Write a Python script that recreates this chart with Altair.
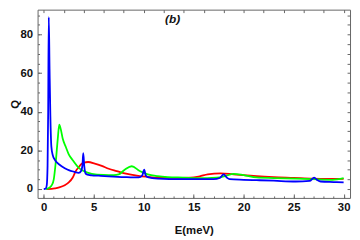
import altair as alt
import pandas as pd

# ---- data ----
blue_E = [0.0, 0.2, 0.3, 0.38, 0.44, 0.5, 0.58, 0.66, 0.76, 0.9, 1.15, 1.55, 2.1, 2.5, 3.0, 3.5,
          3.75, 3.88, 3.95, 4.05, 4.2, 4.5, 4.8, 5.5, 6.5, 8.1, 9.5, 9.85, 10.05, 10.2, 10.4, 11.4,
          13.7, 15.5, 17.0, 17.6, 18.0, 18.3, 18.6, 20.0, 21.3, 23.0, 25.2, 26.6, 27.05, 27.4,
          27.7, 29.0, 30.0]
blue_Q = [0.0, 0.3, 2.0, 12.0, 40.0, 89.0, 62.0, 38.0, 22.0, 17.5, 14.8, 12.7, 10.8, 9.8, 9.0, 8.4,
          9.5, 13.0, 18.6, 12.0, 7.9, 7.3, 7.1, 6.9, 6.6, 6.2, 6.0, 7.0, 10.1, 7.0, 6.2, 5.4,
          5.1, 5.1, 5.1, 5.7, 7.6, 6.0, 5.1, 4.8, 4.6, 4.3, 3.9, 4.2, 5.9, 4.5,
          3.9, 3.6, 3.4]

green_E = [0.2, 0.5, 0.8, 1.0, 1.2, 1.4, 1.55, 1.7, 1.9, 2.2, 2.5, 2.86, 3.5, 4.0, 4.8, 6.0, 7.0,
           7.5, 8.1, 8.8, 9.6, 10.4, 11.4, 12.4, 14.0, 15.4, 17.3, 18.2, 19.0, 20.0, 21.3, 23.0,
           25.2, 26.9, 28.9, 30.0]
green_Q = [0.0, 0.5, 2.0, 5.0, 14.0, 26.0, 33.3, 31.0, 26.0, 21.9, 18.0, 15.2, 11.0, 9.3, 7.9, 7.3, 7.2,
           7.6, 10.0, 11.8, 9.3, 7.6, 6.7, 6.2, 5.9, 5.6, 5.9, 6.8, 7.9, 7.2, 6.0, 5.7,
           5.4, 5.1, 4.8, 5.6]

red_E = [0.3, 0.8, 1.15, 1.55, 2.1, 2.5, 2.9, 3.2, 3.5, 3.7, 4.0, 4.44, 5.1, 5.8, 6.5, 7.3, 8.1,
         9.45, 10.4, 11.4, 13.0, 14.7, 15.6, 16.4, 17.7, 19.0, 20.3, 21.3, 23.0, 25.0, 26.9,
         28.5, 30.0]
red_Q = [0.0, 0.1, 0.4, 0.9, 2.0, 3.4, 6.0, 9.3, 11.3, 12.7, 13.6, 14.0, 13.2, 12.0, 10.5, 9.3, 8.1,
         6.8, 6.3, 5.9, 5.8, 5.9, 6.6, 7.6, 8.1, 7.6, 7.1, 6.7, 6.2, 5.8, 5.4,
         5.3, 5.3]

series_names = ["red", "green", "blue"]
series_colors = ["#FF0000", "#00FF00", "#0000FF"]

x_major = [0, 5, 10, 15, 20, 25, 30]
x_minor = list(range(0, 31))
x_top = list(range(0, 31, 2))
y_major = [0, 20, 40, 60, 80]
y_minor = list(range(0, 91, 5))

rows = []
for name, es, qs in [("red", red_E, red_Q), ("green", green_E, green_Q), ("blue", blue_E, blue_Q)]:
    for e, q in zip(es, qs):
        rows.append({"series": name, "E": e, "Q": q})
df = pd.DataFrame(rows)

xs = alt.Scale(domain=[-0.62, 30.64], nice=False, zero=False)
ys = alt.Scale(domain=[-4.6, 92.9], nice=False, zero=False)

FRAME = "#666666"
FONT = "Liberation Sans"

common_axis = dict(grid=False, domain=False, tickColor=FRAME, tickWidth=1)

lines = alt.Chart(df).mark_line(strokeWidth=1.8, interpolate="monotone").encode(
    x=alt.X("E:Q", scale=xs, axis=alt.Axis(
        orient="bottom", values=x_major, tickSize=4, offset=-4, labelPadding=4,
        labelFont=FONT, labelFontWeight="bold", labelFontSize=11.5, labelColor="#111111",
        title="E(meV)", titleFont=FONT, titleFontWeight="bold", titleFontSize=11.5,
        titleColor="#111111", titlePadding=12, **common_axis)),
    y=alt.Y("Q:Q", scale=ys, axis=alt.Axis(
        orient="left", values=y_major, tickSize=4, offset=-4, labelPadding=5,
        labelFont=FONT, labelFontWeight="bold", labelFontSize=11.5, labelColor="#111111",
        title="Q", titleFont=FONT, titleFontWeight="bold", titleFontSize=11.5,
        titleColor="#111111", titlePadding=0, **common_axis)),
    color=alt.Color("series:N", scale=alt.Scale(domain=series_names, range=series_colors), legend=None),
    detail="series:N",
    order=alt.Order("E:Q"),
)

minor = alt.Chart(df).mark_point(opacity=0).encode(
    x=alt.X("E:Q", scale=xs, axis=alt.Axis(orient="bottom", values=x_minor, tickSize=2, offset=-2,
                                           labels=False, title=None, **common_axis)),
    y=alt.Y("Q:Q", scale=ys, axis=alt.Axis(orient="left", values=y_minor, tickSize=2, offset=-2,
                                           labels=False, title=None, **common_axis)),
)

topright = alt.Chart(df).mark_point(opacity=0).encode(
    x=alt.X("E:Q", scale=xs, axis=alt.Axis(orient="top", values=x_top, tickSize=3, offset=-3,
                                           labels=False, title=None, **common_axis)),
    y=alt.Y("Q:Q", scale=ys, axis=alt.Axis(orient="right", values=y_minor, tickSize=3, offset=-3,
                                           labels=False, title=None, **common_axis)),
)

label = alt.Chart(pd.DataFrame({"t": ["(b)"]})).mark_text(
    font=FONT, fontSize=12, fontWeight="bold", fontStyle="italic", color="#111111",
    align="center", baseline="middle").encode(
    text="t:N", x=alt.value(137), y=alt.value(10))

chart = alt.layer(minor, topright, lines, label).resolve_axis(
    x="independent", y="independent"
).properties(
    width=317, height=191,
    autosize=alt.AutoSizeParams(type="none"),
    padding={"left": 30, "top": 0, "right": 2, "bottom": 40},
).configure_view(stroke=FRAME, strokeWidth=1)

chart.save("out.html", embed_options={"renderer": "svg", "actions": False})
